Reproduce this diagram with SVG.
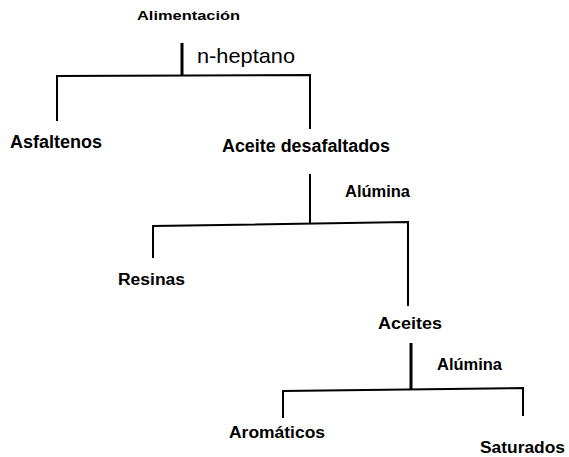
<svg xmlns="http://www.w3.org/2000/svg" width="569" height="457" viewBox="0 0 569 457">
  <style>
    .bg { fill: #ffffff; }
    .lbl { font-family: "Liberation Sans", Arial, sans-serif; font-weight: bold; fill: #000; }
    .reg { font-family: "Liberation Sans", Arial, sans-serif; font-weight: normal; fill: #000; }
    .wire { fill: none; stroke: #000; stroke-width: 2; stroke-linecap: square; }
    .stem { fill: none; stroke: #000; stroke-width: 3; }
  </style>
  <rect class="bg" x="0" y="0" width="569" height="457"/>

  <g id="connectors">
    <!-- feed split with n-heptane -->
    <line class="stem" x1="182" y1="43" x2="182" y2="75"/>
    <polyline class="wire" points="57,120 57,76 310,75 310,128"/>
    <!-- deasphalted oil on alumina -->
    <line class="wire" x1="310" y1="175" x2="310" y2="223"/>
    <polyline class="wire" points="153,257 153,226 408,222 408,305"/>
    <!-- oils on alumina -->
    <line class="stem" x1="411" y1="343" x2="411" y2="390"/>
    <polyline class="wire" points="283,417 283,391 523,388 523,415"/>
  </g>

  <g id="alimentacion"><text class="lbl" x="137" y="20" font-size="13" textLength="103" lengthAdjust="spacingAndGlyphs">Alimentación</text></g>
  <g id="n-heptano"><text class="reg" x="197" y="63" font-size="21" textLength="98" lengthAdjust="spacingAndGlyphs">n-heptano</text></g>
  <g id="asfaltenos"><text class="lbl" x="10" y="148" font-size="17.5" textLength="92" lengthAdjust="spacingAndGlyphs">Asfaltenos</text></g>
  <g id="aceite-desafaltados"><text class="lbl" x="222" y="152" font-size="17.5" textLength="168" lengthAdjust="spacingAndGlyphs">Aceite desafaltados</text></g>
  <g id="alumina-1"><text class="lbl" x="345" y="197" font-size="16" textLength="65" lengthAdjust="spacingAndGlyphs">Alúmina</text></g>
  <g id="resinas"><text class="lbl" x="118" y="285" font-size="16" textLength="67" lengthAdjust="spacingAndGlyphs">Resinas</text></g>
  <g id="aceites"><text class="lbl" x="378" y="329" font-size="16" textLength="64" lengthAdjust="spacingAndGlyphs">Aceites</text></g>
  <g id="alumina-2"><text class="lbl" x="437" y="370" font-size="16" textLength="65" lengthAdjust="spacingAndGlyphs">Alúmina</text></g>
  <g id="aromaticos"><text class="lbl" x="229" y="438" font-size="16" textLength="96" lengthAdjust="spacingAndGlyphs">Aromáticos</text></g>
  <g id="saturados"><text class="lbl" x="480" y="453" font-size="16" textLength="85" lengthAdjust="spacingAndGlyphs">Saturados</text></g>
</svg>
